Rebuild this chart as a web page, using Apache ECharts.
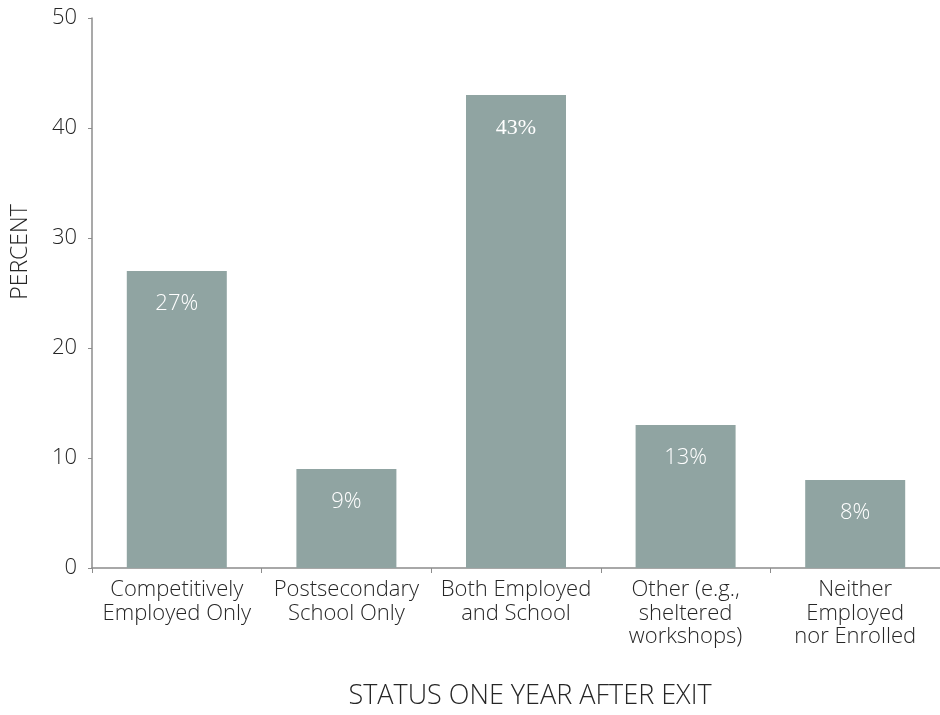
<!DOCTYPE html>
<html>
<head>
<meta charset="utf-8">
<script src="https://cdn.jsdelivr.net/npm/echarts@6/dist/echarts.min.js"></script>
<style>
  html, body { margin: 0; padding: 0; background: #ffffff; }
  #chart { width: 940px; height: 715px; }
</style>
</head>
<body>
<div id="chart"></div>
<script>
// Status of youth one year after exit, percent of group
const categories = [
  'Competitively\nEmployed Only',
  'Postsecondary\nSchool Only',
  'Both Employed\nand School',
  'Other (e.g.,\nsheltered\nworkshops)',
  'Neither\nEmployed\nnor Enrolled'
];
const percentValues = [27, 9, 43, 13, 8];
const yTicks = [0, 10, 20, 30, 40, 50];

const FONT = 'Open Sans';
const WEIGHT = 300;
const TEXT = '#262626';
const AXIS = '#8c8c8c';
const BAR = '#90a4a2';

const chart = echarts.init(document.getElementById('chart'), null, { renderer: 'canvas' });

chart.setOption({
  animation: false,
  backgroundColor: '#ffffff',
  grid: { left: 92, top: 18, width: 856, height: 550, containLabel: false },
  xAxis: {
    type: 'category',
    data: categories,
    name: 'STATUS ONE YEAR AFTER EXIT',
    nameLocation: 'middle',
    nameGap: 115,
    nameTextStyle: { fontFamily: FONT, fontWeight: WEIGHT, fontSize: 27, color: TEXT, padding: [0, 0, 0, 28] },
    axisLine: { lineStyle: { color: AXIS, width: 1.5 } },
    axisTick: { show: true, alignWithLabel: false, length: 5, lineStyle: { color: AXIS } },
    axisLabel: {
      interval: 0,
      margin: 10,
      fontFamily: FONT,
      fontWeight: WEIGHT,
      fontSize: 22,
      lineHeight: 23.5,
      color: TEXT
    }
  },
  yAxis: {
    type: 'value',
    min: yTicks[0],
    max: yTicks[yTicks.length - 1],
    interval: yTicks[1] - yTicks[0],
    splitLine: { show: false },
    axisLine: { show: true, lineStyle: { color: AXIS, width: 1.5 } },
    axisTick: { show: true, length: 4, lineStyle: { color: AXIS } },
    axisLabel: { margin: 15, fontFamily: FONT, fontWeight: WEIGHT, fontSize: 22, color: TEXT }
  },
  graphic: [{
    type: 'text',
    x: 20,
    y: 252,
    rotation: Math.PI / 2,
    style: {
      text: 'PERCENT',
      fontFamily: FONT,
      fontWeight: WEIGHT,
      fontSize: 23,
      fill: TEXT,
      align: 'center',
      verticalAlign: 'middle'
    }
  }],
  series: [{
    type: 'bar',
    data: percentValues.map(function (v, i) {
      const item = { value: v };
      if (i === 2) {
        item.label = { fontFamily: 'Liberation Serif', fontWeight: 'normal', fontSize: 22, distance: 22 };
      }
      return item;
    }),
    barWidth: 100,
    itemStyle: { color: BAR },
    label: {
      show: true,
      position: 'insideTop',
      distance: 22,
      formatter: '{c}%',
      fontFamily: FONT,
      fontWeight: WEIGHT,
      fontSize: 22,
      color: '#ffffff'
    }
  }]
});
</script>
</body>
</html>
